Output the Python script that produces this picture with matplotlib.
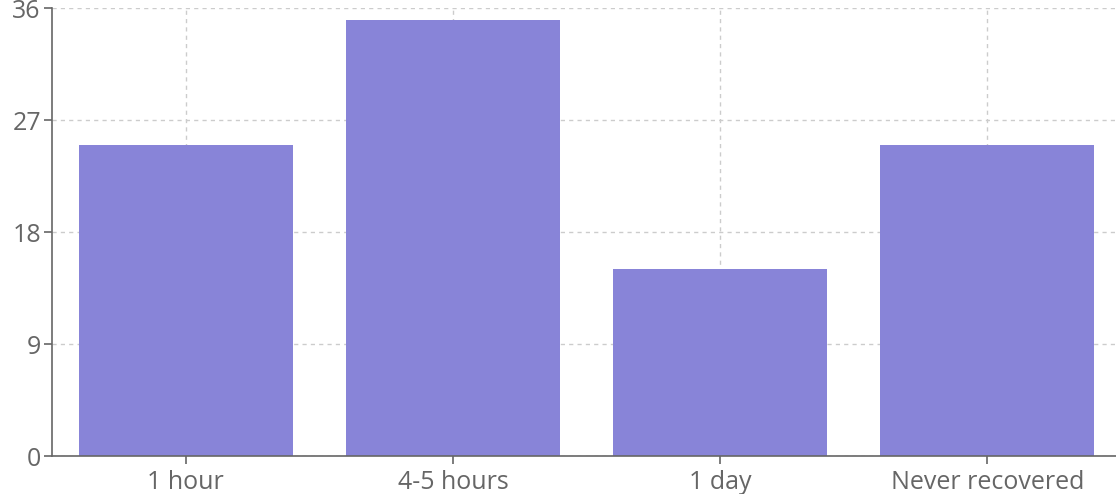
import matplotlib
matplotlib.use("Agg")
import matplotlib.pyplot as plt

categories = ["1 hour", "4-5 hours", "1 day", "Never recovered"]
values = [25, 35, 15, 25]
y_ticks = [0, 9, 18, 27, 36]

plt.rcParams["font.family"] = ["Open Sans", "DejaVu Sans"]

fig = plt.figure(figsize=(11.16, 4.94), dpi=100)
ax = fig.add_axes([52 / 1116, 38 / 494, 1069 / 1116, 448 / 494])

x = list(range(len(categories)))
ax.bar(x, values, width=0.8, color="#8884d8", zorder=2)

ax.set_xlim(-0.5, len(categories) - 0.5)
ax.set_ylim(0, 36)
ax.set_yticks(y_ticks)
ax.set_xticks(x)
ax.set_xticklabels(categories)

ax.grid(True, color="#cccccc", linestyle=(0, (3, 3)), linewidth=1, zorder=0)

for side in ["top", "right"]:
    ax.spines[side].set_visible(False)
for side in ["left", "bottom"]:
    ax.spines[side].set_color("#666666")
    ax.spines[side].set_linewidth(1.2)

ax.tick_params(axis="both", colors="#666666", labelcolor="#666666",
               labelsize=18, length=6, width=1.2, direction="out")
ax.tick_params(axis="x", pad=4)
ax.tick_params(axis="y", pad=2)

fig.savefig("out.png", dpi=100)
